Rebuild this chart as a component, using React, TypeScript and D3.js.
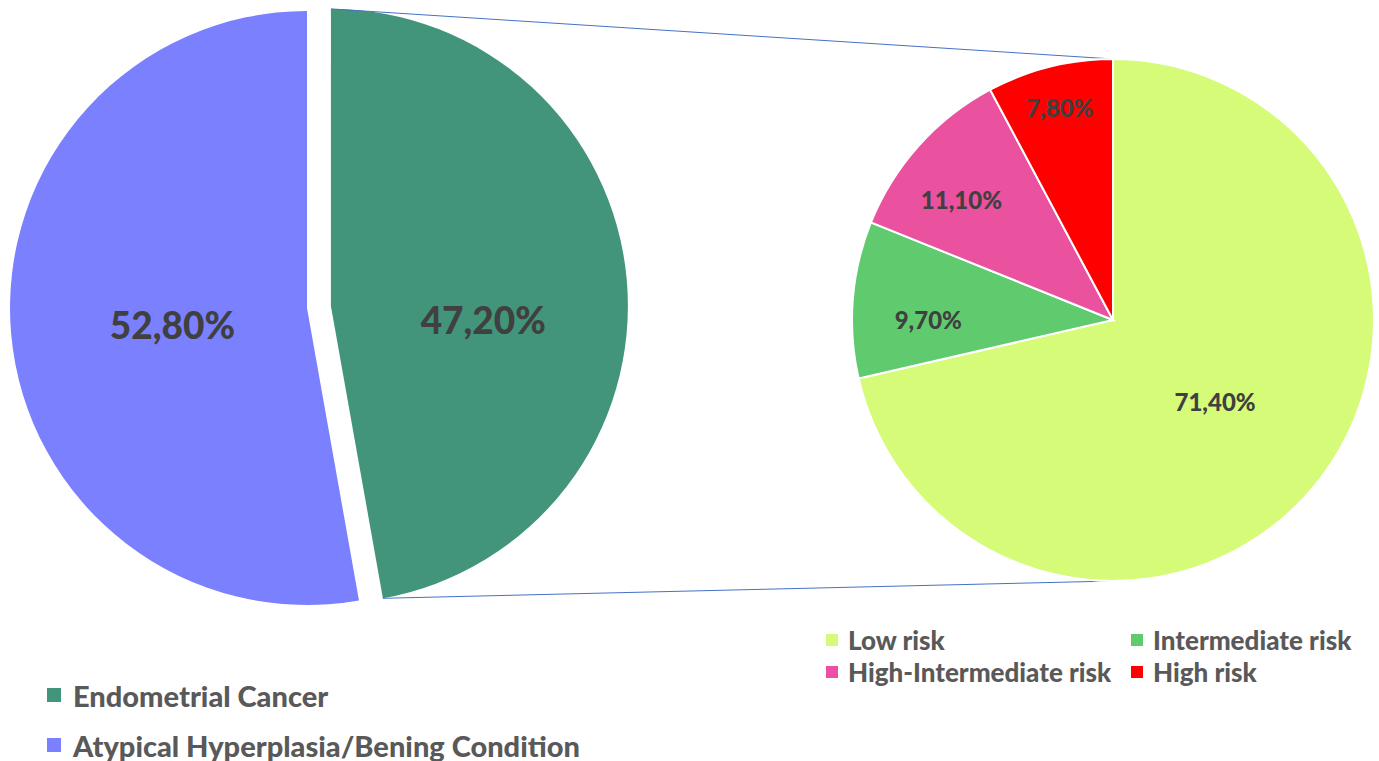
import React from "react";
import * as d3 from "d3";

const mainCategories = ["Endometrial Cancer", "Atypical Hyperplasia/Bening Condition"];
const mainValues = [47.2, 52.8];
const mainLabels = ["47,20%", "52,80%"];
const mainColors = ["#42957A", "#7B80FF"];

const riskCategories = ["Low risk", "Intermediate risk", "High-Intermediate risk", "High risk"];
const riskValues = [71.4, 9.7, 11.1, 7.8];
const riskLabels = ["71,40%", "9,70%", "11,10%", "7,80%"];
const riskColors = ["#D5FB79", "#5FCB6E", "#EA529F", "#FF0000"];

// layout constants
const W = 1379;
const H = 761;
const leftCx = 307;
const leftCy = 308;
const leftR = 297;
const explode = 24;
const rightCx = 1113;
const rightCy = 320;
const rightR = 261;
const mainLabelRadius = [0.515, 0.455];
const mainLabelDy = [27, 5];
const riskLabelRadius = [0.5, 0.71, 0.75, 0.84];
const riskLabelDy = [0, 14, 10, 0];
const riskLabelDx = [0, 0, -6, 0];
const FONT = "Lato, 'Open Sans', sans-serif";
const WEIGHT = 900;

export default function App() {
  const pie = d3.pie<number>().sort(null).value((d) => d);
  const mainArcs = pie(mainValues);
  const riskArcs = pie(riskValues);
  const leftArc = d3.arc<d3.PieArcDatum<number>>().innerRadius(0).outerRadius(leftR);
  const rightArc = d3.arc<d3.PieArcDatum<number>>().innerRadius(0).outerRadius(rightR);

  const pt = (a: number, r: number) => [Math.sin(a) * r, -Math.cos(a) * r];

  // exploded slice (index 0)
  const ex = mainArcs[0];
  const exMid = (ex.startAngle + ex.endAngle) / 2;
  const [exDx, exDy] = pt(exMid, explode);
  const exCx = leftCx + exDx;
  const exCy = leftCy + exDy;
  const [sx, sy] = pt(ex.startAngle, leftR);
  const [ex2, ey2] = pt(ex.endAngle, leftR);
  const [rtx, rty] = pt(0, rightR);
  const [rbx, rby] = pt(Math.PI, rightR);

  return (
    <svg width={W} height={H} style={{ display: "block", position: "absolute", left: 0, top: 0 }}>
      <rect width={W} height={H} fill="#fff" />
      {mainArcs.map((a, i) => {
        const mid = (a.startAngle + a.endAngle) / 2;
        const cx = i === 0 ? exCx : leftCx;
        const cy = i === 0 ? exCy : leftCy;
        const [lx, ly] = pt(mid, leftR * mainLabelRadius[i]);
        return (
          <g key={i} transform={`translate(${cx},${cy})`}>
            <path d={leftArc(a) || ""} fill={mainColors[i]} />
            <text
              x={lx}
              y={ly + mainLabelDy[i]}
              textAnchor="middle"
              dominantBaseline="central"
              fontFamily={FONT}
              fontWeight={WEIGHT}
              fontSize={37}
              fill="#404040"
            >
              {mainLabels[i]}
            </text>
          </g>
        );
      })}
      <line x1={exCx + sx} y1={exCy + sy} x2={rightCx + rtx} y2={rightCy + rty} stroke="#4472C4" strokeWidth={1} />
      <line x1={exCx + ex2} y1={exCy + ey2} x2={rightCx + rbx} y2={rightCy + rby} stroke="#4472C4" strokeWidth={1} />
      <g transform={`translate(${rightCx},${rightCy})`}>
        {riskArcs.map((a, i) => (
          <path key={i} d={rightArc(a) || ""} fill={riskColors[i]} stroke="#fff" strokeWidth={2} />
        ))}
        {riskArcs.map((a, i) => {
          const mid = (a.startAngle + a.endAngle) / 2;
          const [lx, ly] = pt(mid, rightR * riskLabelRadius[i]);
          return (
            <text
              key={i}
              x={lx + riskLabelDx[i]}
              y={ly + riskLabelDy[i]}
              textAnchor="middle"
              dominantBaseline="central"
              fontFamily={FONT}
              fontWeight={WEIGHT}
              fontSize={24}
              fill="#404040"
            >
              {riskLabels[i]}
            </text>
          );
        })}
      </g>
      {/* left legend */}
      {mainCategories.map((c, i) => (
        <g key={c} transform={`translate(47,${695 + i * 50})`}>
          <rect x={0} y={-7} width={14} height={14} fill={mainColors[i]} />
          <text x={26} y={0} dominantBaseline="central" fontFamily={FONT} fontWeight={WEIGHT} fontSize={29} fill="#595959">
            {c}
          </text>
        </g>
      ))}
      {/* right legend */}
      {riskCategories.map((c, i) => (
        <g key={c} transform={`translate(${826 + (i % 2) * 305},${640 + Math.floor(i / 2) * 32})`}>
          <rect x={0} y={-6} width={12} height={12} fill={riskColors[i]} />
          <text x={22} y={0} dominantBaseline="central" fontFamily={FONT} fontWeight={WEIGHT} fontSize={26} fill="#595959">
            {c}
          </text>
        </g>
      ))}
    </svg>
  );
}
